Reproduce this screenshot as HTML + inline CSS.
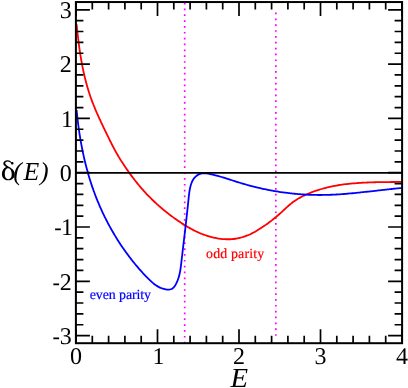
<!DOCTYPE html>
<html>
<head>
<meta charset="utf-8">
<title>Phase shift</title>
<style>
html,body{margin:0;padding:0;background:#fff;}
body{width:408px;height:388px;overflow:hidden;}
svg{display:block;}
text{text-rendering:geometricPrecision;}
text{font-family:"Liberation Serif",serif;}
</style>
</head>
<body>
<svg width="408" height="388" viewBox="0 0 408 388">
<rect x="0" y="0" width="408" height="388" fill="#ffffff"/>
<g style="will-change:transform">
<!-- dotted verticals -->
<path d="M184.7 343.45 V2" stroke="#ff00ff" stroke-width="1.7" stroke-dasharray="1.7 4.146" fill="none"/>
<path d="M275.85 335.85 V9.9" stroke="#ff00ff" stroke-width="1.7" stroke-dasharray="1.7 4.146" fill="none"/>
<!-- curves -->
<path d="M76.61 24.39 C76.64 24.70 76.73 25.61 76.79 26.21 C76.85 26.82 76.91 27.43 76.98 28.03 C77.04 28.64 77.10 29.24 77.17 29.85 C77.23 30.46 77.29 31.06 77.36 31.67 C77.43 32.27 77.49 32.88 77.56 33.48 C77.63 34.09 77.69 34.69 77.76 35.30 C77.83 35.90 77.90 36.51 77.97 37.11 C78.04 37.71 78.11 38.32 78.18 38.92 C78.26 39.52 78.33 40.13 78.41 40.73 C78.48 41.33 78.56 41.94 78.63 42.54 C78.71 43.14 78.79 43.75 78.87 44.35 C78.94 44.95 79.02 45.55 79.11 46.15 C79.19 46.75 79.27 47.36 79.35 47.96 C79.44 48.56 79.52 49.16 79.61 49.76 C79.70 50.36 79.78 50.96 79.87 51.56 C79.96 52.16 80.05 52.76 80.15 53.36 C80.24 53.95 80.33 54.55 80.43 55.15 C80.52 55.75 80.62 56.35 80.72 56.95 C80.82 57.54 80.92 58.14 81.02 58.74 C81.12 59.33 81.22 59.93 81.33 60.53 C81.43 61.12 81.54 61.72 81.65 62.31 C81.76 62.91 81.87 63.50 81.98 64.10 C82.09 64.69 82.20 65.29 82.32 65.88 C82.43 66.47 82.55 67.07 82.67 67.66 C82.79 68.25 82.91 68.84 83.04 69.44 C83.16 70.03 83.28 70.62 83.41 71.21 C83.54 71.80 83.67 72.39 83.80 72.98 C83.93 73.57 84.06 74.16 84.20 74.75 C84.34 75.34 84.47 75.93 84.61 76.51 C84.75 77.10 84.90 77.69 85.04 78.28 C85.19 78.86 85.33 79.45 85.48 80.04 C85.63 80.62 85.78 81.21 85.94 81.79 C86.09 82.38 86.25 82.96 86.41 83.54 C86.56 84.13 86.73 84.71 86.89 85.29 C87.05 85.88 87.22 86.46 87.39 87.04 C87.56 87.62 87.73 88.20 87.90 88.78 C88.08 89.36 88.25 89.94 88.43 90.52 C88.61 91.10 88.79 91.68 88.98 92.26 C89.16 92.83 89.35 93.41 89.54 93.99 C89.73 94.56 89.92 95.14 90.12 95.72 C90.31 96.29 90.51 96.87 90.71 97.44 C90.91 98.01 91.12 98.59 91.33 99.16 C91.53 99.73 91.74 100.30 91.96 100.88 C92.17 101.45 92.39 102.02 92.61 102.59 C92.82 103.16 93.05 103.73 93.27 104.30 C93.49 104.86 93.72 105.43 93.95 106.00 C94.18 106.57 94.41 107.13 94.65 107.70 C94.88 108.27 95.12 108.83 95.35 109.39 C95.59 109.96 95.83 110.52 96.07 111.09 C96.32 111.65 96.56 112.21 96.80 112.77 C97.05 113.33 97.30 113.90 97.55 114.46 C97.80 115.02 98.05 115.58 98.30 116.13 C98.55 116.69 98.80 117.25 99.06 117.81 C99.31 118.37 99.57 118.92 99.83 119.48 C100.08 120.03 100.34 120.59 100.60 121.14 C100.86 121.70 101.12 122.25 101.38 122.80 C101.64 123.36 101.90 123.91 102.16 124.46 C102.43 125.01 102.69 125.56 102.95 126.11 C103.22 126.66 103.48 127.21 103.74 127.76 C104.01 128.31 104.27 128.85 104.54 129.40 C104.80 129.95 105.06 130.49 105.33 131.04 C105.59 131.58 105.86 132.13 106.12 132.67 C106.38 133.21 106.65 133.76 106.91 134.30 C107.18 134.84 107.44 135.38 107.70 135.92 C107.96 136.46 108.23 137.00 108.49 137.54 C108.75 138.08 109.02 138.62 109.28 139.16 C109.55 139.69 109.81 140.23 110.08 140.77 C110.34 141.30 110.61 141.84 110.88 142.37 C111.14 142.90 111.41 143.44 111.68 143.97 C111.95 144.50 112.22 145.03 112.50 145.56 C112.77 146.10 113.04 146.63 113.32 147.15 C113.60 147.68 113.88 148.21 114.16 148.74 C114.44 149.27 114.72 149.79 115.01 150.32 C115.29 150.84 115.58 151.37 115.87 151.89 C116.16 152.42 116.46 152.94 116.75 153.46 C117.05 153.99 117.35 154.51 117.65 155.03 C117.96 155.55 118.26 156.07 118.57 156.59 C118.88 157.11 119.20 157.62 119.51 158.14 C119.83 158.66 120.15 159.17 120.47 159.69 C120.79 160.20 121.11 160.72 121.44 161.23 C121.77 161.75 122.10 162.26 122.43 162.77 C122.76 163.28 123.10 163.79 123.43 164.30 C123.77 164.81 124.11 165.32 124.45 165.83 C124.79 166.34 125.13 166.85 125.48 167.35 C125.82 167.86 126.17 168.37 126.51 168.87 C126.86 169.37 127.21 169.88 127.57 170.38 C127.92 170.88 128.27 171.38 128.63 171.88 C128.98 172.38 129.34 172.88 129.70 173.38 C130.06 173.88 130.42 174.37 130.79 174.87 C131.15 175.36 131.52 175.85 131.89 176.35 C132.25 176.84 132.62 177.33 132.99 177.82 C133.37 178.31 133.74 178.79 134.11 179.28 C134.49 179.76 134.87 180.25 135.25 180.73 C135.63 181.21 136.01 181.69 136.39 182.17 C136.77 182.65 137.16 183.13 137.54 183.60 C137.93 184.08 138.32 184.55 138.71 185.02 C139.10 185.49 139.49 185.96 139.89 186.43 C140.28 186.90 140.68 187.36 141.08 187.83 C141.47 188.29 141.87 188.75 142.28 189.21 C142.68 189.67 143.08 190.12 143.49 190.58 C143.89 191.03 144.30 191.48 144.71 191.93 C145.12 192.38 145.53 192.83 145.95 193.27 C146.36 193.72 146.77 194.16 147.19 194.60 C147.61 195.04 148.03 195.47 148.45 195.91 C148.87 196.34 149.29 196.77 149.72 197.20 C150.14 197.63 150.57 198.06 150.99 198.48 C151.42 198.91 151.85 199.33 152.29 199.75 C152.72 200.17 153.15 200.58 153.59 201.00 C154.02 201.41 154.46 201.82 154.90 202.23 C155.34 202.64 155.78 203.05 156.22 203.46 C156.67 203.86 157.11 204.26 157.56 204.66 C158.01 205.07 158.46 205.46 158.91 205.86 C159.36 206.26 159.81 206.65 160.26 207.04 C160.72 207.43 161.17 207.82 161.63 208.21 C162.09 208.60 162.55 208.98 163.01 209.37 C163.47 209.75 163.94 210.13 164.40 210.51 C164.87 210.89 165.34 211.27 165.80 211.65 C166.27 212.02 166.74 212.40 167.22 212.77 C167.69 213.14 168.16 213.51 168.64 213.88 C169.12 214.25 169.60 214.61 170.08 214.98 C170.56 215.34 171.04 215.70 171.52 216.07 C172.01 216.43 172.49 216.79 172.98 217.14 C173.47 217.50 173.95 217.86 174.45 218.21 C174.94 218.57 175.43 218.92 175.92 219.27 C176.42 219.62 176.92 219.97 177.41 220.32 C177.91 220.66 178.41 221.01 178.92 221.35 C179.42 221.70 179.92 222.04 180.43 222.37 C180.93 222.71 181.44 223.05 181.95 223.38 C182.46 223.71 182.98 224.04 183.49 224.37 C184.00 224.70 184.52 225.02 185.04 225.34 C185.56 225.66 186.08 225.98 186.60 226.29 C187.13 226.61 187.65 226.92 188.18 227.23 C188.71 227.53 189.23 227.83 189.77 228.13 C190.30 228.43 190.83 228.73 191.37 229.02 C191.91 229.31 192.45 229.59 192.99 229.87 C193.53 230.16 194.07 230.43 194.62 230.70 C195.16 230.98 195.71 231.24 196.26 231.51 C196.81 231.77 197.37 232.02 197.92 232.28 C198.48 232.53 199.04 232.77 199.60 233.02 C200.16 233.26 200.73 233.49 201.29 233.72 C201.86 233.95 202.43 234.17 203.00 234.39 C203.57 234.61 204.15 234.82 204.72 235.03 C205.30 235.23 205.88 235.43 206.46 235.62 C207.05 235.82 207.63 236.00 208.22 236.18 C208.81 236.36 209.40 236.53 209.99 236.70 C210.58 236.86 211.18 237.02 211.77 237.17 C212.37 237.32 212.97 237.46 213.57 237.60 C214.17 237.73 214.77 237.86 215.37 237.98 C215.97 238.10 216.58 238.22 217.18 238.32 C217.79 238.42 218.39 238.52 219.00 238.61 C219.61 238.70 220.21 238.77 220.82 238.85 C221.43 238.92 222.04 238.98 222.64 239.03 C223.25 239.09 223.86 239.13 224.47 239.17 C225.07 239.20 225.68 239.23 226.29 239.24 C226.90 239.26 227.50 239.27 228.11 239.27 C228.71 239.26 229.32 239.25 229.92 239.23 C230.52 239.21 231.13 239.18 231.73 239.14 C232.33 239.10 232.93 239.04 233.52 238.98 C234.12 238.92 234.72 238.85 235.31 238.76 C235.90 238.68 236.50 238.59 237.09 238.48 C237.68 238.38 238.26 238.26 238.85 238.14 C239.43 238.01 240.01 237.87 240.59 237.72 C241.17 237.58 241.75 237.42 242.32 237.25 C242.89 237.08 243.46 236.89 244.03 236.70 C244.60 236.51 245.16 236.31 245.72 236.10 C246.29 235.89 246.85 235.67 247.40 235.44 C247.96 235.22 248.51 234.98 249.06 234.74 C249.62 234.49 250.16 234.24 250.71 233.98 C251.26 233.72 251.80 233.45 252.34 233.17 C252.88 232.90 253.42 232.62 253.95 232.33 C254.49 232.04 255.02 231.75 255.55 231.45 C256.08 231.15 256.61 230.84 257.14 230.53 C257.66 230.22 258.18 229.90 258.70 229.58 C259.22 229.26 259.74 228.93 260.26 228.60 C260.77 228.27 261.29 227.94 261.80 227.60 C262.31 227.27 262.81 226.93 263.32 226.58 C263.83 226.24 264.33 225.89 264.83 225.54 C265.33 225.20 265.83 224.84 266.32 224.49 C266.82 224.13 267.31 223.77 267.81 223.41 C268.30 223.05 268.79 222.69 269.27 222.32 C269.76 221.96 270.25 221.59 270.73 221.22 C271.21 220.85 271.69 220.47 272.17 220.10 C272.65 219.72 273.12 219.34 273.60 218.96 C274.07 218.58 274.54 218.19 275.01 217.81 C275.48 217.42 275.95 217.03 276.41 216.64 C276.88 216.25 277.34 215.86 277.80 215.46 C278.26 215.07 278.72 214.67 279.18 214.27 C279.63 213.87 280.09 213.47 280.54 213.07 C280.99 212.67 281.45 212.26 281.89 211.86 C282.34 211.45 282.79 211.04 283.23 210.63 C283.68 210.22 284.12 209.81 284.56 209.39 C285.01 208.98 285.45 208.57 285.89 208.15 C286.33 207.74 286.77 207.33 287.21 206.92 C287.66 206.51 288.10 206.11 288.55 205.71 C289.00 205.30 289.46 204.90 289.91 204.51 C290.37 204.12 290.83 203.73 291.30 203.36 C291.77 202.98 292.25 202.61 292.73 202.24 C293.22 201.88 293.71 201.53 294.20 201.18 C294.70 200.84 295.21 200.50 295.72 200.17 C296.23 199.84 296.74 199.52 297.27 199.20 C297.79 198.89 298.31 198.58 298.84 198.28 C299.37 197.98 299.91 197.68 300.45 197.40 C300.99 197.11 301.53 196.83 302.07 196.55 C302.62 196.27 303.16 196.00 303.71 195.74 C304.26 195.47 304.81 195.21 305.36 194.96 C305.92 194.70 306.47 194.46 307.03 194.21 C307.58 193.97 308.14 193.73 308.70 193.49 C309.26 193.26 309.82 193.03 310.38 192.80 C310.94 192.58 311.50 192.36 312.07 192.14 C312.63 191.93 313.20 191.72 313.77 191.51 C314.34 191.30 314.90 191.10 315.48 190.90 C316.05 190.71 316.62 190.51 317.19 190.33 C317.76 190.14 318.34 189.95 318.91 189.77 C319.49 189.60 320.07 189.42 320.65 189.25 C321.22 189.08 321.80 188.91 322.39 188.75 C322.97 188.58 323.55 188.43 324.13 188.27 C324.71 188.12 325.30 187.96 325.88 187.82 C326.47 187.67 327.06 187.53 327.64 187.39 C328.23 187.25 328.82 187.11 329.41 186.98 C330.00 186.85 330.59 186.72 331.18 186.59 C331.77 186.47 332.37 186.35 332.96 186.23 C333.55 186.11 334.15 186.00 334.74 185.89 C335.34 185.77 335.93 185.67 336.53 185.56 C337.13 185.46 337.73 185.36 338.32 185.26 C338.92 185.16 339.52 185.06 340.12 184.97 C340.72 184.88 341.32 184.79 341.92 184.70 C342.53 184.62 343.13 184.53 343.73 184.45 C344.33 184.37 344.94 184.29 345.54 184.22 C346.14 184.14 346.75 184.07 347.35 184.00 C347.96 183.93 348.56 183.87 349.17 183.80 C349.78 183.74 350.38 183.67 350.99 183.61 C351.60 183.55 352.21 183.50 352.81 183.44 C353.42 183.39 354.03 183.33 354.64 183.28 C355.25 183.23 355.86 183.18 356.46 183.14 C357.07 183.09 357.68 183.05 358.29 183.00 C358.90 182.96 359.51 182.92 360.12 182.88 C360.73 182.84 361.34 182.81 361.95 182.77 C362.57 182.74 363.18 182.70 363.79 182.67 C364.40 182.64 365.01 182.61 365.62 182.58 C366.23 182.55 366.84 182.53 367.45 182.50 C368.07 182.48 368.68 182.45 369.29 182.43 C369.90 182.41 370.51 182.38 371.12 182.36 C371.73 182.34 372.34 182.33 372.95 182.31 C373.57 182.29 374.18 182.27 374.79 182.26 C375.40 182.24 376.01 182.23 376.62 182.21 C377.23 182.20 377.84 182.19 378.45 182.18 C379.06 182.16 379.67 182.15 380.28 182.14 C380.89 182.13 381.49 182.12 382.10 182.11 C382.71 182.11 383.32 182.10 383.93 182.09 C384.54 182.08 385.14 182.07 385.75 182.07 C386.36 182.06 386.96 182.05 387.57 182.05 C388.17 182.04 388.78 182.03 389.39 182.03 C389.99 182.02 390.59 182.02 391.20 182.01 C391.80 182.01 392.41 182.00 393.01 182.00 C393.61 181.99 394.21 181.98 394.81 181.98 C395.41 181.97 396.02 181.97 396.62 181.96 C397.21 181.96 397.81 181.95 398.41 181.94 C399.01 181.94 399.61 181.93 400.20 181.92 C400.80 181.91 401.69 181.90 401.99 181.90" stroke="#ff0000" stroke-width="1.8" fill="none" stroke-linejoin="round"/>
<path d="M76.60 110.01 C76.63 110.35 76.73 111.39 76.80 112.08 C76.87 112.77 76.94 113.46 77.01 114.14 C77.08 114.83 77.15 115.52 77.23 116.21 C77.30 116.90 77.38 117.59 77.46 118.28 C77.54 118.97 77.62 119.66 77.70 120.35 C77.78 121.04 77.87 121.73 77.95 122.42 C78.04 123.11 78.12 123.80 78.21 124.49 C78.30 125.18 78.39 125.87 78.49 126.56 C78.58 127.24 78.67 127.93 78.77 128.62 C78.87 129.31 78.97 130.00 79.07 130.69 C79.17 131.38 79.27 132.07 79.37 132.76 C79.48 133.44 79.58 134.13 79.69 134.82 C79.80 135.51 79.91 136.20 80.02 136.88 C80.13 137.57 80.25 138.26 80.36 138.95 C80.48 139.63 80.60 140.32 80.72 141.01 C80.84 141.69 80.96 142.38 81.08 143.07 C81.21 143.75 81.33 144.44 81.46 145.12 C81.59 145.81 81.72 146.49 81.85 147.18 C81.98 147.86 82.12 148.55 82.25 149.23 C82.39 149.92 82.53 150.60 82.67 151.28 C82.81 151.96 82.95 152.65 83.10 153.33 C83.24 154.01 83.39 154.69 83.54 155.38 C83.69 156.06 83.84 156.74 84.00 157.42 C84.15 158.10 84.31 158.78 84.46 159.46 C84.62 160.14 84.78 160.81 84.95 161.49 C85.11 162.17 85.27 162.85 85.44 163.53 C85.61 164.20 85.78 164.88 85.95 165.55 C86.12 166.23 86.30 166.91 86.48 167.58 C86.65 168.26 86.83 168.93 87.02 169.60 C87.20 170.28 87.38 170.95 87.57 171.62 C87.75 172.29 87.94 172.96 88.14 173.63 C88.33 174.30 88.52 174.97 88.72 175.64 C88.91 176.31 89.11 176.98 89.31 177.65 C89.52 178.31 89.72 178.98 89.93 179.65 C90.13 180.31 90.34 180.98 90.55 181.64 C90.77 182.31 90.98 182.97 91.20 183.63 C91.41 184.29 91.63 184.96 91.86 185.62 C92.08 186.28 92.30 186.94 92.53 187.60 C92.76 188.26 92.99 188.91 93.22 189.57 C93.45 190.23 93.69 190.88 93.93 191.54 C94.16 192.19 94.40 192.85 94.65 193.50 C94.89 194.15 95.14 194.81 95.39 195.46 C95.64 196.11 95.89 196.76 96.14 197.41 C96.40 198.06 96.65 198.71 96.91 199.35 C97.17 200.00 97.43 200.64 97.70 201.29 C97.96 201.93 98.23 202.58 98.50 203.22 C98.77 203.86 99.05 204.50 99.32 205.14 C99.60 205.78 99.87 206.42 100.16 207.06 C100.44 207.70 100.72 208.34 101.01 208.97 C101.29 209.61 101.58 210.24 101.87 210.87 C102.16 211.51 102.46 212.14 102.75 212.77 C103.05 213.40 103.35 214.03 103.65 214.66 C103.95 215.28 104.26 215.91 104.56 216.54 C104.87 217.16 105.18 217.78 105.49 218.41 C105.80 219.03 106.12 219.65 106.44 220.27 C106.75 220.89 107.07 221.51 107.39 222.13 C107.72 222.74 108.04 223.36 108.37 223.97 C108.70 224.59 109.03 225.20 109.36 225.81 C109.69 226.42 110.02 227.03 110.36 227.64 C110.70 228.25 111.04 228.85 111.38 229.46 C111.72 230.06 112.07 230.67 112.41 231.27 C112.76 231.87 113.11 232.47 113.46 233.07 C113.82 233.67 114.17 234.27 114.53 234.86 C114.88 235.46 115.24 236.05 115.60 236.65 C115.97 237.24 116.33 237.83 116.70 238.42 C117.06 239.01 117.43 239.60 117.80 240.18 C118.17 240.77 118.55 241.35 118.92 241.93 C119.30 242.52 119.68 243.10 120.06 243.68 C120.44 244.25 120.82 244.83 121.21 245.41 C121.60 245.98 121.98 246.56 122.37 247.13 C122.76 247.70 123.16 248.27 123.55 248.84 C123.95 249.41 124.34 249.97 124.74 250.54 C125.14 251.10 125.55 251.67 125.95 252.23 C126.35 252.79 126.76 253.35 127.17 253.90 C127.58 254.46 127.99 255.02 128.40 255.57 C128.82 256.12 129.23 256.68 129.65 257.23 C130.07 257.78 130.49 258.32 130.92 258.87 C131.34 259.42 131.77 259.96 132.20 260.51 C132.63 261.05 133.06 261.59 133.49 262.13 C133.93 262.67 134.37 263.21 134.81 263.75 C135.25 264.28 135.69 264.82 136.14 265.35 C136.59 265.89 137.04 266.42 137.49 266.95 C137.94 267.48 138.40 268.01 138.86 268.54 C139.32 269.07 139.78 269.60 140.25 270.13 C140.72 270.65 141.19 271.18 141.66 271.70 C142.13 272.22 142.61 272.75 143.09 273.27 C143.57 273.79 144.05 274.31 144.54 274.83 C145.03 275.35 145.52 275.87 146.01 276.38 C146.51 276.90 147.01 277.42 147.51 277.93 C148.01 278.44 148.52 278.95 149.03 279.45 C149.54 279.95 150.06 280.45 150.59 280.94 C151.11 281.42 151.64 281.90 152.18 282.36 C152.72 282.82 153.26 283.28 153.81 283.71 C154.37 284.15 154.93 284.57 155.49 284.97 C156.06 285.37 156.64 285.75 157.23 286.11 C157.81 286.47 158.41 286.82 159.02 287.13 C159.62 287.45 160.24 287.74 160.87 288.00 C161.49 288.27 162.13 288.50 162.78 288.71 C163.44 288.92 164.10 289.10 164.77 289.24 C165.45 289.38 166.14 289.50 166.83 289.56 C167.51 289.62 168.21 289.64 168.87 289.59 C169.53 289.54 170.19 289.44 170.80 289.24 C171.41 289.04 171.99 288.76 172.51 288.40 C173.04 288.04 173.50 287.56 173.94 287.06 C174.38 286.55 174.77 285.97 175.15 285.39 C175.52 284.81 175.87 284.20 176.19 283.59 C176.52 282.98 176.82 282.35 177.10 281.72 C177.38 281.09 177.64 280.45 177.88 279.80 C178.13 279.15 178.35 278.49 178.56 277.83 C178.77 277.16 178.96 276.49 179.14 275.81 C179.32 275.13 179.48 274.45 179.63 273.76 C179.79 273.07 179.92 272.38 180.05 271.68 C180.18 270.98 180.30 270.28 180.41 269.57 C180.53 268.87 180.63 268.16 180.73 267.45 C180.82 266.74 180.92 266.03 181.00 265.32 C181.09 264.61 181.17 263.90 181.26 263.19 C181.34 262.48 181.42 261.77 181.50 261.06 C181.58 260.35 181.66 259.65 181.74 258.95 C181.82 258.24 181.90 257.54 181.98 256.84 C182.06 256.14 182.14 255.44 182.22 254.74 C182.31 254.05 182.39 253.35 182.47 252.66 C182.55 251.96 182.63 251.27 182.71 250.58 C182.79 249.88 182.87 249.19 182.95 248.51 C183.03 247.82 183.11 247.13 183.20 246.44 C183.28 245.75 183.36 245.07 183.44 244.38 C183.52 243.69 183.60 243.01 183.68 242.33 C183.76 241.64 183.84 240.96 183.92 240.28 C184.00 239.59 184.08 238.91 184.16 238.23 C184.25 237.55 184.33 236.87 184.41 236.18 C184.49 235.50 184.57 234.82 184.65 234.14 C184.73 233.46 184.81 232.78 184.89 232.10 C184.97 231.42 185.05 230.74 185.13 230.06 C185.21 229.38 185.29 228.70 185.37 228.02 C185.44 227.33 185.52 226.65 185.60 225.97 C185.68 225.29 185.76 224.61 185.84 223.93 C185.92 223.24 186.00 222.56 186.07 221.88 C186.15 221.19 186.23 220.51 186.31 219.82 C186.39 219.14 186.46 218.45 186.54 217.76 C186.62 217.08 186.70 216.39 186.77 215.70 C186.85 215.01 186.93 214.32 187.00 213.63 C187.08 212.94 187.15 212.25 187.23 211.55 C187.31 210.86 187.38 210.16 187.46 209.47 C187.53 208.77 187.61 208.07 187.68 207.37 C187.76 206.67 187.83 205.97 187.90 205.27 C187.98 204.56 188.05 203.86 188.12 203.15 C188.20 202.44 188.27 201.74 188.34 201.02 C188.41 200.31 188.48 199.60 188.56 198.89 C188.63 198.17 188.70 197.46 188.78 196.74 C188.86 196.03 188.94 195.31 189.02 194.60 C189.11 193.89 189.20 193.18 189.30 192.47 C189.40 191.76 189.51 191.06 189.63 190.36 C189.75 189.67 189.88 188.97 190.03 188.29 C190.17 187.61 190.33 186.93 190.50 186.26 C190.68 185.59 190.86 184.93 191.07 184.28 C191.29 183.63 191.52 182.99 191.78 182.36 C192.05 181.74 192.33 181.12 192.67 180.52 C193.00 179.92 193.36 179.33 193.77 178.76 C194.18 178.19 194.64 177.62 195.12 177.11 C195.60 176.60 196.13 176.11 196.67 175.69 C197.21 175.27 197.79 174.90 198.37 174.60 C198.96 174.30 199.56 174.07 200.18 173.88 C200.80 173.69 201.44 173.56 202.09 173.47 C202.74 173.38 203.40 173.34 204.07 173.33 C204.74 173.32 205.42 173.36 206.11 173.41 C206.80 173.47 207.49 173.57 208.19 173.67 C208.89 173.78 209.59 173.92 210.29 174.07 C210.99 174.21 211.70 174.38 212.40 174.54 C213.09 174.71 213.79 174.88 214.48 175.06 C215.18 175.24 215.87 175.42 216.56 175.60 C217.24 175.79 217.93 175.98 218.61 176.17 C219.30 176.36 219.98 176.56 220.65 176.75 C221.33 176.95 222.01 177.15 222.68 177.36 C223.36 177.56 224.03 177.77 224.70 177.97 C225.37 178.18 226.04 178.39 226.71 178.60 C227.38 178.81 228.05 179.02 228.71 179.23 C229.38 179.44 230.04 179.66 230.71 179.87 C231.37 180.08 232.04 180.29 232.70 180.51 C233.37 180.72 234.03 180.93 234.69 181.14 C235.36 181.35 236.02 181.56 236.68 181.77 C237.35 181.98 238.01 182.19 238.67 182.39 C239.34 182.60 240.00 182.80 240.67 183.00 C241.33 183.20 242.00 183.40 242.66 183.60 C243.33 183.80 244.00 183.99 244.67 184.18 C245.33 184.37 246.00 184.56 246.67 184.75 C247.34 184.93 248.01 185.12 248.68 185.30 C249.35 185.48 250.02 185.66 250.70 185.84 C251.37 186.02 252.04 186.19 252.71 186.36 C253.39 186.53 254.06 186.70 254.73 186.87 C255.41 187.04 256.08 187.20 256.76 187.37 C257.43 187.53 258.11 187.69 258.79 187.85 C259.46 188.00 260.14 188.16 260.82 188.31 C261.50 188.46 262.17 188.61 262.85 188.76 C263.53 188.91 264.21 189.05 264.89 189.19 C265.57 189.34 266.25 189.48 266.93 189.61 C267.61 189.75 268.29 189.89 268.97 190.02 C269.66 190.15 270.34 190.28 271.02 190.41 C271.70 190.54 272.39 190.66 273.07 190.78 C273.75 190.91 274.44 191.02 275.12 191.14 C275.81 191.26 276.49 191.37 277.18 191.48 C277.86 191.60 278.55 191.71 279.24 191.81 C279.92 191.92 280.61 192.02 281.30 192.12 C281.98 192.23 282.67 192.33 283.36 192.42 C284.05 192.52 284.73 192.61 285.42 192.70 C286.11 192.79 286.80 192.88 287.49 192.97 C288.18 193.05 288.87 193.14 289.56 193.22 C290.25 193.30 290.94 193.37 291.63 193.45 C292.32 193.52 293.01 193.60 293.70 193.67 C294.39 193.74 295.09 193.80 295.78 193.87 C296.47 193.93 297.16 193.99 297.85 194.05 C298.55 194.11 299.24 194.17 299.93 194.22 C300.62 194.27 301.32 194.32 302.01 194.37 C302.71 194.42 303.40 194.46 304.09 194.51 C304.79 194.55 305.48 194.59 306.18 194.63 C306.87 194.66 307.57 194.70 308.26 194.73 C308.95 194.76 309.65 194.79 310.35 194.81 C311.04 194.84 311.74 194.86 312.43 194.88 C313.13 194.90 313.82 194.92 314.52 194.93 C315.22 194.95 315.91 194.96 316.61 194.97 C317.30 194.98 318.00 194.98 318.70 194.99 C319.39 194.99 320.09 194.99 320.79 194.99 C321.48 194.99 322.18 194.98 322.88 194.97 C323.58 194.96 324.27 194.95 324.97 194.94 C325.67 194.93 326.36 194.91 327.06 194.89 C327.76 194.87 328.46 194.85 329.15 194.82 C329.85 194.80 330.55 194.77 331.25 194.74 C331.94 194.71 332.64 194.68 333.34 194.65 C334.04 194.62 334.74 194.58 335.43 194.54 C336.13 194.50 336.83 194.46 337.53 194.42 C338.22 194.38 338.92 194.33 339.62 194.29 C340.32 194.24 341.02 194.19 341.71 194.14 C342.41 194.09 343.11 194.04 343.81 193.99 C344.50 193.93 345.20 193.88 345.90 193.82 C346.60 193.76 347.29 193.70 347.99 193.64 C348.69 193.58 349.39 193.52 350.08 193.46 C350.78 193.40 351.48 193.33 352.18 193.27 C352.87 193.20 353.57 193.14 354.27 193.07 C354.96 193.00 355.66 192.93 356.36 192.86 C357.05 192.79 357.75 192.72 358.45 192.65 C359.14 192.58 359.84 192.50 360.53 192.43 C361.23 192.36 361.93 192.28 362.62 192.21 C363.32 192.13 364.01 192.06 364.71 191.98 C365.40 191.90 366.10 191.83 366.79 191.75 C367.49 191.67 368.18 191.60 368.88 191.52 C369.57 191.44 370.27 191.36 370.96 191.28 C371.66 191.20 372.35 191.13 373.04 191.05 C373.74 190.97 374.43 190.89 375.12 190.81 C375.82 190.73 376.51 190.65 377.20 190.57 C377.89 190.50 378.59 190.42 379.28 190.34 C379.97 190.26 380.66 190.18 381.35 190.10 C382.04 190.03 382.73 189.95 383.43 189.87 C384.12 189.80 384.81 189.72 385.50 189.64 C386.19 189.57 386.88 189.49 387.57 189.42 C388.26 189.34 388.94 189.27 389.63 189.20 C390.32 189.12 391.01 189.05 391.70 188.98 C392.39 188.91 393.07 188.84 393.76 188.77 C394.45 188.70 395.13 188.63 395.82 188.56 C396.51 188.50 397.19 188.43 397.88 188.37 C398.56 188.30 399.25 188.24 399.93 188.18 C400.62 188.12 401.64 188.03 401.99 188.00" stroke="#0000ff" stroke-width="1.8" fill="none" stroke-linejoin="round"/>
<!-- zero line -->
<path d="M75.9 172.79999999999998 H402.1" stroke="#000" stroke-width="1.7" fill="none"/>
<!-- ticks -->
<path d="M76.00 343.20 V329.20 M76.00 2.05 V16.05 M92.30 343.20 V335.70 M92.30 2.05 V9.55 M108.60 343.20 V335.70 M108.60 2.05 V9.55 M124.90 343.20 V335.70 M124.90 2.05 V9.55 M141.20 343.20 V335.70 M141.20 2.05 V9.55 M157.50 343.20 V329.20 M157.50 2.05 V16.05 M173.80 343.20 V335.70 M173.80 2.05 V9.55 M190.10 343.20 V335.70 M190.10 2.05 V9.55 M206.40 343.20 V335.70 M206.40 2.05 V9.55 M222.70 343.20 V335.70 M222.70 2.05 V9.55 M239.00 343.20 V329.20 M239.00 2.05 V16.05 M255.30 343.20 V335.70 M255.30 2.05 V9.55 M271.60 343.20 V335.70 M271.60 2.05 V9.55 M287.90 343.20 V335.70 M287.90 2.05 V9.55 M304.20 343.20 V335.70 M304.20 2.05 V9.55 M320.50 343.20 V329.20 M320.50 2.05 V16.05 M336.80 343.20 V335.70 M336.80 2.05 V9.55 M353.10 343.20 V335.70 M353.10 2.05 V9.55 M369.40 343.20 V335.70 M369.40 2.05 V9.55 M385.70 343.20 V335.70 M385.70 2.05 V9.55 M402.00 343.20 V329.20 M402.00 2.05 V16.05 M75.90 335.60 H89.90 M402.10 335.60 H388.10 M75.90 324.74 H83.40 M402.10 324.74 H394.60 M75.90 313.88 H83.40 M402.10 313.88 H394.60 M75.90 303.02 H83.40 M402.10 303.02 H394.60 M75.90 292.16 H83.40 M402.10 292.16 H394.60 M75.90 281.30 H89.90 M402.10 281.30 H388.10 M75.90 270.44 H83.40 M402.10 270.44 H394.60 M75.90 259.58 H83.40 M402.10 259.58 H394.60 M75.90 248.72 H83.40 M402.10 248.72 H394.60 M75.90 237.86 H83.40 M402.10 237.86 H394.60 M75.90 227.00 H89.90 M402.10 227.00 H388.10 M75.90 216.14 H83.40 M402.10 216.14 H394.60 M75.90 205.28 H83.40 M402.10 205.28 H394.60 M75.90 194.42 H83.40 M402.10 194.42 H394.60 M75.90 183.56 H83.40 M402.10 183.56 H394.60 M75.90 172.70 H89.90 M402.10 172.70 H388.10 M75.90 161.84 H83.40 M402.10 161.84 H394.60 M75.90 150.98 H83.40 M402.10 150.98 H394.60 M75.90 140.12 H83.40 M402.10 140.12 H394.60 M75.90 129.26 H83.40 M402.10 129.26 H394.60 M75.90 118.40 H89.90 M402.10 118.40 H388.10 M75.90 107.54 H83.40 M402.10 107.54 H394.60 M75.90 96.68 H83.40 M402.10 96.68 H394.60 M75.90 85.82 H83.40 M402.10 85.82 H394.60 M75.90 74.96 H83.40 M402.10 74.96 H394.60 M75.90 64.10 H89.90 M402.10 64.10 H388.10 M75.90 53.24 H83.40 M402.10 53.24 H394.60 M75.90 42.38 H83.40 M402.10 42.38 H394.60 M75.90 31.52 H83.40 M402.10 31.52 H394.60 M75.90 20.66 H83.40 M402.10 20.66 H394.60 M75.90 9.80 H89.90 M402.10 9.80 H388.10" stroke="#000" stroke-width="1.7" fill="none"/>
<!-- frame -->
<rect x="75.9" y="2.05" width="326.20000000000005" height="341.15" fill="none" stroke="#000" stroke-width="2"/>
<!-- tick labels -->
<g font-size="24" fill="#000">
<text x="71.70" y="343.80" text-anchor="end">3</text>
<text x="52.50" y="343.80" textLength="7.4" lengthAdjust="spacingAndGlyphs">-</text>
<text x="71.70" y="289.50" text-anchor="end">2</text>
<text x="52.50" y="289.50" textLength="7.4" lengthAdjust="spacingAndGlyphs">-</text>
<text x="72.90" y="235.20" text-anchor="end">1</text>
<text x="54.30" y="235.20" textLength="7.4" lengthAdjust="spacingAndGlyphs">-</text>
<text x="71.70" y="180.90" text-anchor="end">0</text>
<text x="72.90" y="126.60" text-anchor="end">1</text>
<text x="71.70" y="72.30" text-anchor="end">2</text>
<text x="71.70" y="18.00" text-anchor="end">3</text>
<text x="76.00" y="363.9" text-anchor="middle">0</text>
<text x="158.50" y="363.9" text-anchor="middle">1</text>
<text x="239.00" y="363.9" text-anchor="middle">2</text>
<text x="320.50" y="363.9" text-anchor="middle">3</text>
<text x="402.00" y="363.9" text-anchor="middle">4</text>
</g>
<!-- axis labels -->
<path d="M13.55 163.3 C13.55 164.0 13.0 164.55 12.3 164.55 C11.5 164.55 11.2 164.0 10.9 163.3 C10.4 162.2 9.2 161.5 7.6 161.5 C6.2 161.5 5.3 162.3 5.3 163.3 C5.3 164.3 6.2 165.0 7.6 165.9 C10.4 167.6 14.75 169.6 14.75 173.9 C14.75 177.6 12.2 180.25 8.3 180.25 C4.4 180.25 1.9 177.6 1.9 173.9 C1.9 170.6 3.6 168.0 6.1 166.9 C4.3 165.8 3.3 164.8 3.3 163.5 C3.3 161.6 5.0 160.3 7.6 160.3 C9.6 160.3 10.6 161.1 11.3 162.3 C11.6 162.1 11.9 162.05 12.3 162.05 C13.0 162.05 13.55 162.6 13.55 163.3 Z M8.2 168.2 C6.0 168.2 4.8 170.6 4.8 173.9 C4.8 177.0 6.0 179.15 8.3 179.15 C10.6 179.15 11.75 177.0 11.75 174.2 C11.75 171.6 10.6 168.2 8.2 168.2 Z" fill="#000" fill-rule="evenodd"/>
<g font-size="25.8" font-style="italic" fill="#000">
<text x="13.2" y="180.3">(</text>
<text x="23.5" y="180.3">E</text>
<text x="40.0" y="180.3">)</text>
</g>
<text transform="translate(230.6 386.5) scale(1.04 1)" x="0" y="0" font-size="27.6" font-style="italic" fill="#000">E</text>
<!-- annotations -->
<text x="89.8" y="298.5" font-size="13.9" fill="#0000ff" stroke="#0000ff" stroke-width="0.2" textLength="61.2" lengthAdjust="spacing">even parity</text>
<text x="206.1" y="258.2" font-size="13.9" fill="#ff0000" stroke="#ff0000" stroke-width="0.2" textLength="58" lengthAdjust="spacing">odd parity</text>
</g>
</svg>
</body>
</html>
